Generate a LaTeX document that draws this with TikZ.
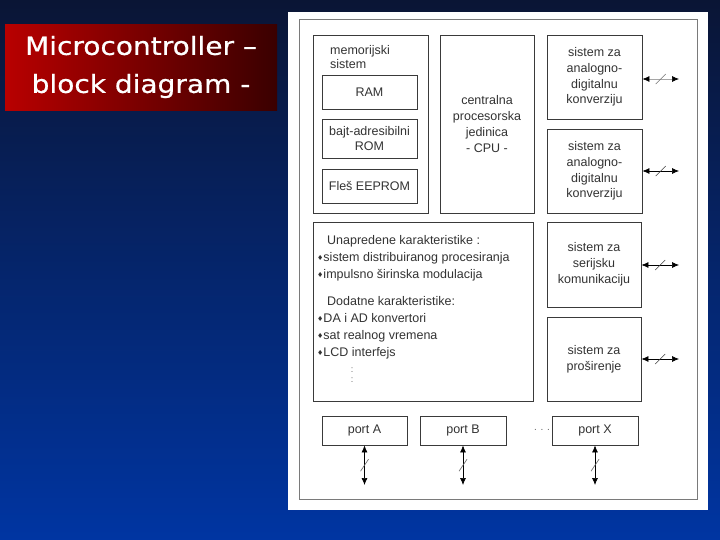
\documentclass[tikz,border=0pt]{standalone}
\usepackage{fontspec}
\setmainfont{Liberation Sans}
\newfontfamily\titlefont[FakeStretch=1.12,FakeBold=0.6]{DejaVu Sans}
\newfontfamily\symfont{DejaVu Sans}
\usetikzlibrary{arrows.meta,calc}
\definecolor{bgtop}{HTML}{0A1535}
\definecolor{bgbot}{HTML}{0035A2}
\definecolor{txt}{HTML}{333333}
\definecolor{boxc}{HTML}{3A3A3A}
\definecolor{framec}{HTML}{7A7A7A}
\definecolor{redl}{HTML}{B80000}
\definecolor{redr}{HTML}{3A0000}
\newcommand{\dia}{{\symfont\fontsize{7}{7}\selectfont\raisebox{1pt}{♦}}}
\begin{document}
\begin{tikzpicture}[x=1pt,y=-1pt,
  box/.style={draw=boxc, line width=0.8pt, inner sep=0pt, align=center, text=txt,
    font=\fontsize{12.5}{15.8}\selectfont},
  lbl/.style={inner sep=0pt, align=left, text=txt, font=\fontsize{12.5}{17}\selectfont},
  tip/.tip={Latex[length=7pt,width=6pt]},
  bus/.style={line width=0.7pt, draw=black, tip-tip},
  slash/.style={line width=0.6pt, draw=black!75}
]
\useasboundingbox (0,0) rectangle (720,540);
% background
\fill[top color=bgtop, bottom color=bgbot] (0,0) rectangle (720,540);
% title
\node[draw=none, left color=redl, right color=redr, minimum width=272, minimum height=86,
  inner sep=0pt] (title) at (141,68) {};
\node[text=white, align=center, inner sep=0pt, font=\titlefont\fontsize{25}{38}\selectfont]
  (titletext) at (141,67) {Microcontroller –\\block diagram -};
% white panel and frame
\node[fill=white, minimum width=420, minimum height=498, inner sep=0pt] (panel) at (498,261) {};
\node[draw=framec, line width=0.8pt, minimum width=398, minimum height=480, inner sep=0pt] (frame) at (498,259) {};
% memory system
\node[box, minimum width=115, minimum height=178] (mem) at (370.5,124) {};
\node[lbl, anchor=north west, font=\fontsize{12.5}{14}\selectfont] (memlbl) at (330,45) {memorijski\\sistem};
\node[box, minimum width=95, minimum height=34] (ram) at (369.5,92) {RAM};
\node[box, minimum width=95, minimum height=39] (rom) at (369.5,138.5) {bajt-adresibilni\\ROM};
\node[box, minimum width=95, minimum height=34] (eeprom) at (369.5,186) {Fleš EEPROM};
% CPU
\node[box, minimum width=94, minimum height=178] (cpu) at (487,124) {centralna\\procesorska\\jedinica\\- CPU -};
% ADC
\node[box, minimum width=95, minimum height=84] (adc1) at (594.5,77) {sistem za\\analogno-\\digitalnu\\konverziju};
\node[box, minimum width=95, minimum height=84] (adc2) at (594.5,171) {sistem za\\analogno-\\digitalnu\\konverziju};
% features
\node[box, minimum width=220, minimum height=179] (feat) at (423,311.5) {};
\node[lbl, anchor=north west] (feattext) at (317,235) {%
  \hspace{10pt}Unapredene karakteristike :\\
  \dia sistem distribuiranog procesiranja\\
  \dia impulsno širinska modulacija\\[10pt]
  \hspace{10pt}Dodatne karakteristike:\\
  \dia DA i AD konvertori\\
  \dia sat realnog vremena\\
  \dia LCD interfejs};
\node[inner sep=0pt, align=center, text=black!60, font=\fontsize{9}{10}\selectfont] (vdots) at (352,375) {:\\:};
% serial and expansion
\node[box, minimum width=94, minimum height=85] (ser) at (594,264.5) {sistem za\\serijsku\\komunikaciju};
\node[box, minimum width=94, minimum height=84] (exp) at (594,359) {sistem za\\proširenje};
% ports
\node[box, minimum width=85, minimum height=29] (pa) at (364.5,430.5) {port A};
\node[box, minimum width=86, minimum height=29] (pb) at (463,430.5) {port B};
\node[box, minimum width=86, minimum height=29] (px) at (595,430.5) {port X};
\node[inner sep=0pt, text=black!60, font=\fontsize{10}{10}\selectfont] (pdots) at (542,430) {. . .};
% external ends
\coordinate (e1) at (679,79);
\coordinate (e2) at (679,171);
\coordinate (e3) at (679,265);
\coordinate (e4) at (679,359);
\coordinate (ea) at (364.5,485);
\coordinate (eb) at (463,485);
\coordinate (ex) at (595,485);
% horizontal buses
\draw[bus, draw=black!35, {Latex[length=7pt,width=6pt,color=black]}-{Latex[length=7pt,width=6pt,color=black]}] (adc1.east |- e1) -- (e1);
\draw[bus] (adc2.east |- e2) -- (e2);
\draw[bus] (ser.east |- e3) -- (e3);
\draw[bus] (exp.east |- e4) -- (e4);
\draw[slash, draw=black!55] ($(adc1.east |- e1)!0.5!(e1)$) +(-5,5) -- +(5,-5);
\draw[slash] ($(adc2.east |- e2)!0.5!(e2)$) +(-5,5) -- +(5,-5);
\draw[slash] ($(ser.east |- e3)!0.5!(e3)$) +(-5,5) -- +(5,-5);
\draw[slash] ($(exp.east |- e4)!0.5!(e4)$) +(-5,5) -- +(5,-5);
% vertical buses
\draw[bus] (pa.south) -- (ea);
\draw[bus] (pb.south) -- (eb);
\draw[bus] (px.south) -- (ex);
\draw[slash, draw=black!60] ($(pa.south)!0.5!(ea)$) +(-4,6) -- +(4,-6);
\draw[slash, draw=black!60] ($(pb.south)!0.5!(eb)$) +(-4,6) -- +(4,-6);
\draw[slash, draw=black!60] ($(px.south)!0.5!(ex)$) +(-4,6) -- +(4,-6);
\end{tikzpicture}
\end{document}
